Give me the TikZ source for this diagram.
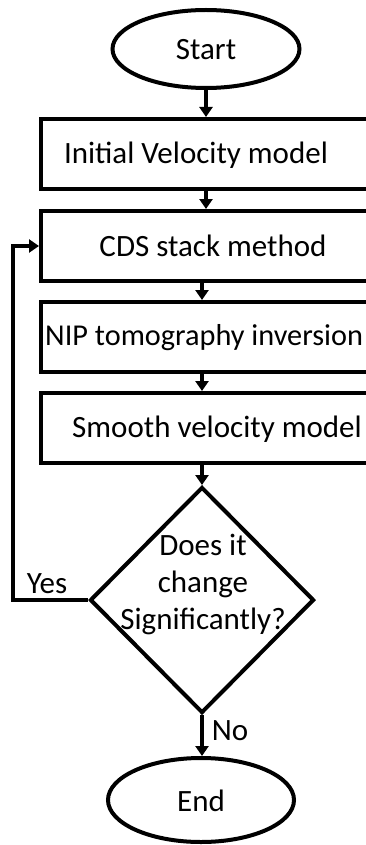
\documentclass[tikz,border=0pt]{standalone}
\usepackage{fontspec}
\setmainfont{Carlito}
\usetikzlibrary{shapes.geometric,arrows.meta}
\tikzset{
  shapeline/.style={draw=black,line width=4pt},
  termnode/.style={shapeline,ellipse,inner sep=0pt},
  procbox/.style={shapeline,rectangle,minimum width=334pt,minimum height=70pt,inner sep=0pt},
  txt/.style={font=\fontsize{31}{37}\selectfont,inner sep=0pt,align=center},
  conn/.style={line width=3.5pt,-{Triangle[length=10pt,width=13pt]}},
}
\begin{document}
\begin{tikzpicture}[x=1pt,y=-1pt]
\useasboundingbox (0,0) rectangle (366,845);
\clip (0,0) rectangle (366,845);
\fill[white] (0,0) rectangle (366,845);
% terminals
\node[termnode,minimum width=187pt,minimum height=78pt] (start) at (206,49) {};
\node[txt] (tstart) at (206,50) {Start};
\node[termnode,minimum width=186pt,minimum height=84pt] (end) at (201,800) {};
\node[txt] (tend) at (201,801) {End};
% process boxes
\node[procbox] (b1) at (208,154) {};
\node[procbox] (b2) at (208,246) {};
\node[procbox] (b3) at (208,337) {};
\node[procbox] (b4) at (208,428) {};
\node[txt] (t1) at (196,155) {Initial Velocity model};
\node[txt] (t2) at (213,246) {CDS stack method};
\node[txt,anchor=west,font=\fontsize{30.3}{37}\selectfont] (t3) at (45,338) {NIP tomography inversion};
\node[txt] (t4) at (217,429) {Smooth velocity model};
% decision
\node[shapeline,diamond,minimum width=224pt,minimum height=226pt,inner sep=0pt] (dia) at (202,600) {};
\node[txt] (tdia) at (203,584) {Does it\\change\\Significantly?};
% labels
\node[txt] (yes) at (47,584) {Yes};
\node[txt] (no) at (230,731) {No};
% connectors
\draw[conn] (start.south) -- (start.south |- b1.north);
\draw[conn] (b1.south -| start) -- (b2.north -| start);
\draw[conn] (b2.south -| dia) -- (b3.north -| dia);
\draw[conn] (b3.south -| dia) -- (b4.north -| dia);
\draw[conn] (b4.south -| dia) -- (dia.north);
\draw[conn] (dia.south) -- (dia.south |- end.north);
\coordinate (loopx) at (13,600);
\draw[conn] (dia.west) -- (loopx) |- (b2.west);
\end{tikzpicture}
\end{document}
